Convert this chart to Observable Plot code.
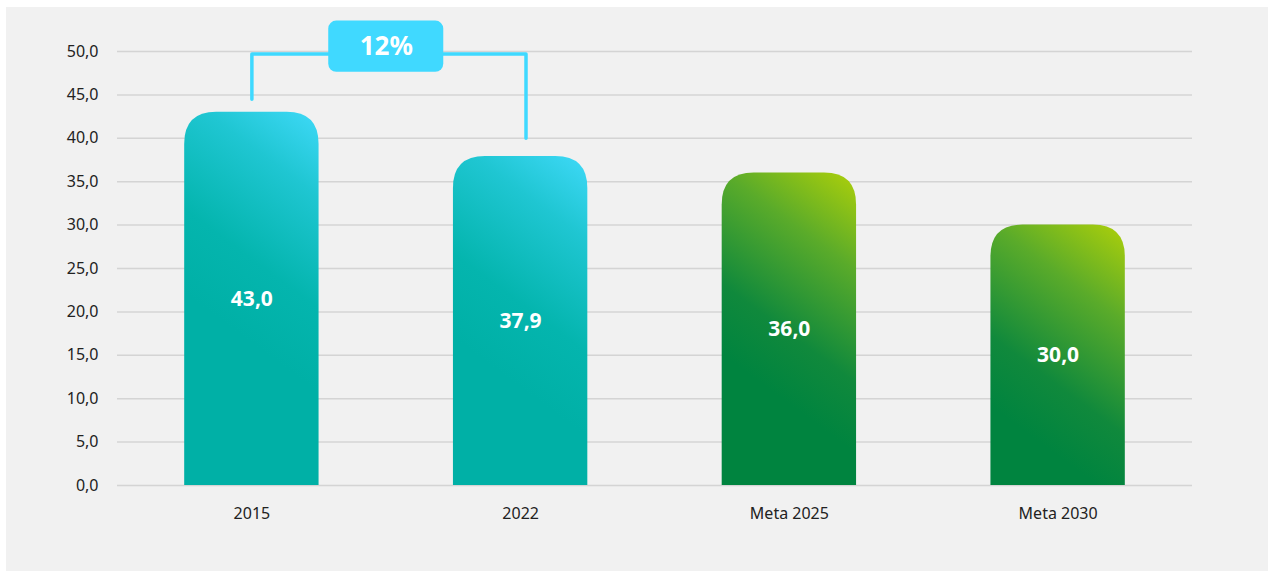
<!DOCTYPE html>
<html>
<head>
<meta charset="utf-8">
<script src="https://cdn.jsdelivr.net/npm/d3@7"></script>
<script src="https://cdn.jsdelivr.net/npm/@observablehq/plot@0.6"></script>
<style>
  html, body { margin: 0; padding: 0; background: #ffffff; }
  #panel { position: absolute; left: 6px; top: 7px; width: 1262px; height: 564px; background: #f1f1f1; }
  #panel svg { display: block; }
</style>
</head>
<body>
<div id="panel"></div>
<script>
// ---- data ----
const categories = ["2015", "2022", "Meta 2025", "Meta 2030"];
const values = [43.0, 37.9, 36.0, 30.0];
const groups = ["real", "real", "meta", "meta"];
const yTicks = [0, 5, 10, 15, 20, 25, 30, 35, 40, 45, 50];
// annotation: bracket between 2015 and 2022 with variation label
const bracketX = [0, 0, 1.02, 1.02];
const bracketY = [44.5, 49.7, 49.7, 40.0];
const changeLabel = "12%";
const changeBox = {x1: 0.286, x2: 0.714, y1: 47.6, y2: 53.5};

const rows = categories.map((c, i) => ({i, category: c, value: values[i], group: groups[i]}));
const bracket = bracketX.map((x, k) => ({x, y: bracketY[k]}));
const fmt = v => v.toFixed(1).replace(".", ",");

const font = "'Noto Sans', sans-serif";

const chart = Plot.plot({
  width: 1258,
  height: 560,
  marginLeft: 111,
  marginRight: 72,
  marginTop: 44,
  marginBottom: 82,
  style: {background: "transparent", fontFamily: font, fontSize: "16px", color: "#222"},
  x: {domain: [-0.5, 3.5], axis: null},
  y: {domain: [0, 50], axis: null},
  marks: [
    Plot.gridY(yTicks, {stroke: "#d4d4d4", strokeOpacity: 1, strokeWidth: 1.5}),
    Plot.axisY(yTicks, {tickSize: 0, tickPadding: 19, tickFormat: fmt, fontSize: 16, fill: "#222", label: null}),
    Plot.text(rows, {x: "i", y: 0, text: "category", dy: 28, fontSize: 16, fill: "#222"}),
    Plot.rectY(rows.filter(d => d.group === "real"), {x1: d => d.i - 0.25, x2: d => d.i + 0.25, y1: 0, y2: "value", fill: "#00b0a6"}),
    Plot.rectY(rows.filter(d => d.group === "meta"), {x1: d => d.i - 0.25, x2: d => d.i + 0.25, y1: 0, y2: "value", fill: "#00843f"}),
    Plot.text(rows, {x: "i", y: d => d.value / 2, text: d => fmt(d.value), fill: "white", fontSize: 21, fontWeight: "bold"}),
    Plot.line(bracket, {x: "x", y: "y", stroke: "#3fd9ff", strokeWidth: 3.5, curve: "linear"}),
    Plot.rect([changeBox], {x1: "x1", x2: "x2", y1: "y1", y2: "y2", fill: "#40d9ff", rx: 8}),
    Plot.text([changeBox], {x: d => (d.x1 + d.x2) / 2, y: d => (d.y1 + d.y2) / 2, text: () => changeLabel, fill: "white", fontSize: 26, fontWeight: "bold"})
  ]
});

const svg = d3.select(chart);
const defs = svg.insert("defs", ":first-child");
const palettes = {
  "#00b0a6": [[0, "#00b0a6"], [0.3, "#04b5ae"], [0.7, "#1fc6d2"], [1, "#3fd9f8"]],
  "#00843f": [[0, "#00843f"], [0.25, "#10893c"], [0.65, "#5aab2a"], [1, "#aed00a"]]
};

// round top corners of bars + per-bar diagonal gradient
const R = 32;
let k = 0;
Object.keys(palettes).forEach(base => {
  svg.selectAll(`g[fill="${base}"] rect`).each(function() {
    const r = d3.select(this);
    const x = +r.attr("x"), y = +r.attr("y"), w = +r.attr("width"), h = +r.attr("height");
    const id = "barGrad" + (k++);
    const g = defs.append("linearGradient").attr("id", id).attr("gradientUnits", "userSpaceOnUse")
      .attr("x1", x).attr("y1", y + 1.35 * w).attr("x2", x + w).attr("y2", y);
    palettes[base].forEach(([o, c]) => g.append("stop").attr("offset", o).attr("stop-color", c));
    const rr = Math.min(R, w / 2, h);
    const p = `M${x},${y + h}V${y + rr}Q${x},${y} ${x + rr},${y}H${x + w - rr}Q${x + w},${y} ${x + w},${y + rr}V${y + h}Z`;
    d3.select(this.parentNode).insert("path", () => this).attr("d", p).attr("fill", `url(#${id})`);
    r.remove();
  });
});

document.getElementById("panel").appendChild(chart);
</script>
</body>
</html>
